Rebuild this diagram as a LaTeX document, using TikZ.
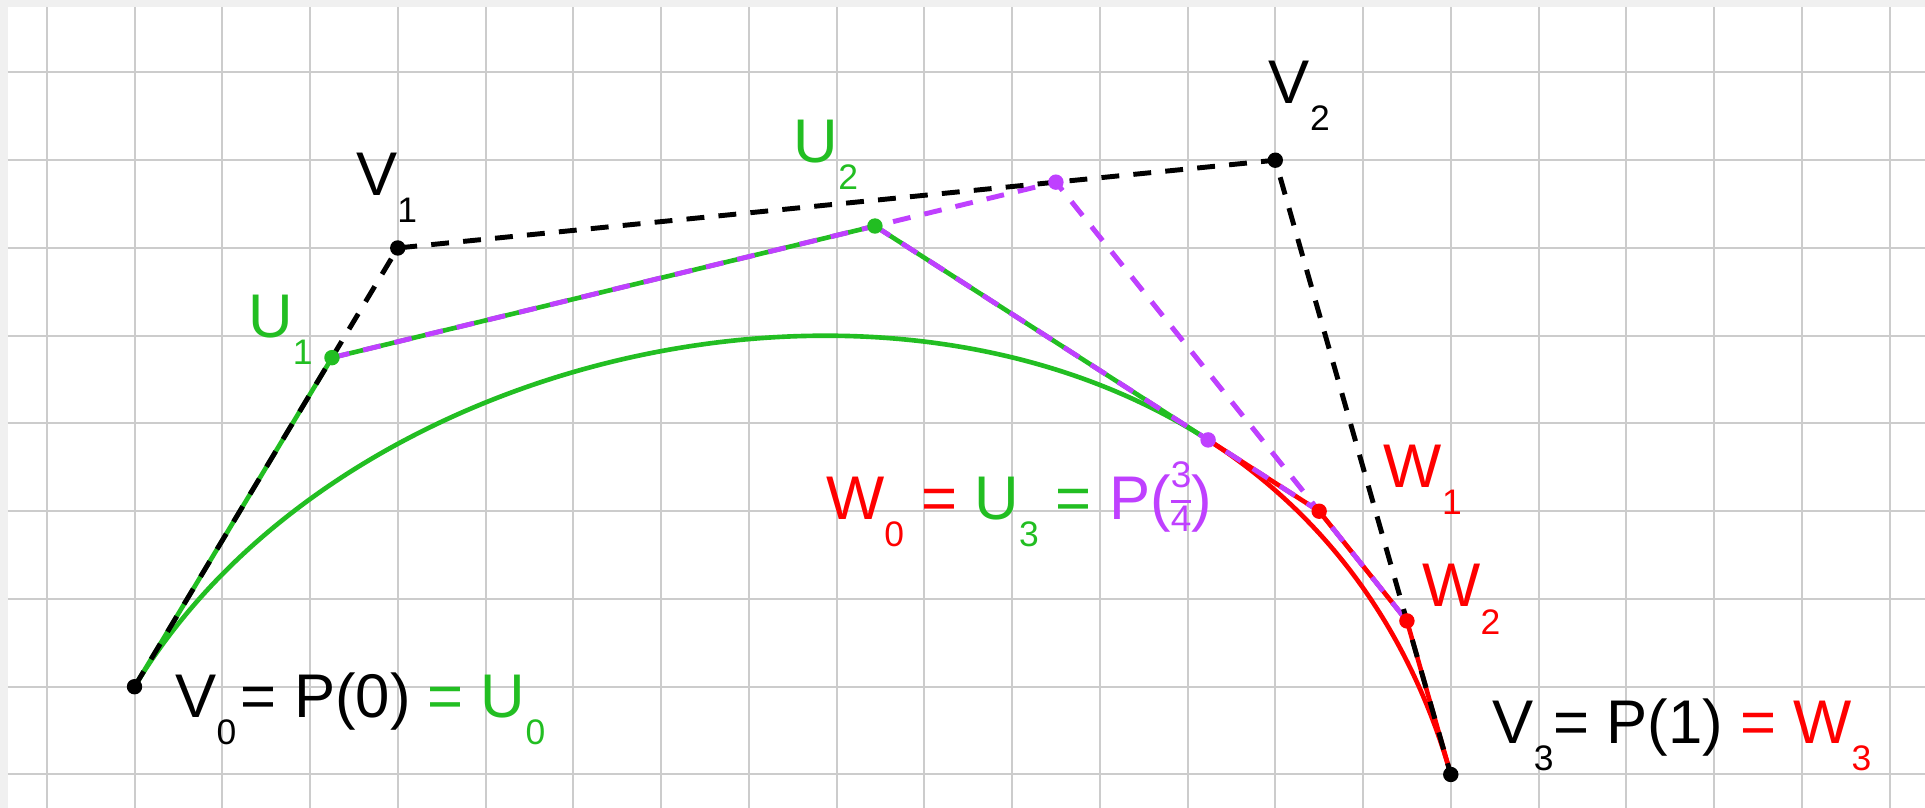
\documentclass[tikz,border=0pt]{standalone}
\usepackage{fontspec}
\setmainfont{Liberation Sans}
\definecolor{gridgray}{RGB}{204,204,204}
\definecolor{framegray}{RGB}{240,240,240}
\definecolor{ugreen}{RGB}{34,190,34}
\definecolor{mpurple}{RGB}{191,64,255}
\definecolor{wred}{RGB}{255,0,0}
\newcommand{\lowidx}[1]{\raisebox{-8.8pt}{\fontsize{11.5}{13}\selectfont #1}}
\newcommand{\stackfrac}[2]{\raisebox{3pt}{\fontsize{12}{12}\selectfont\setlength{\arrayrulewidth}{1pt}\renewcommand{\arraystretch}{1.12}\begin{tabular}{@{}c@{}}#1\\\hline #2\end{tabular}}}

\begin{document}
\begin{tikzpicture}
    \tikzset{
        gridline/.style={gridgray, line width=0.65pt},
        ctrl/.style={black, line width=1.6pt, dash pattern=on 5.8pt off 4.6pt},
        mid/.style={mpurple, line width=1.6pt, dash pattern=on 5.8pt off 4.6pt},
        solidline/.style={line width=1.5pt, line join=round},
        dot/.style={circle, inner sep=0pt, minimum size=5pt},
        lbl/.style={inner sep=0pt, font=\fontsize{20}{24}\selectfont}
    }

    % frame and grid
    \useasboundingbox (-1.533,-1.382) rectangle (20.404,7.826);
    \fill[framegray] (-1.533,-1.382) rectangle (20.404,7.826);
    \fill[white] (-1.442,-1.382) rectangle (20.404,7.746);
    \foreach \x in {-1,...,20} {
        \draw[gridline] (\x,-1.382) -- (\x,7.746);
    }
    \foreach \y in {-1,...,7} {
        \draw[gridline] (-1.442,\y) -- (20.404,\y);
    }

    % points
    \coordinate (v0) at (0,0);
    \coordinate (v1) at (3,5);
    \coordinate (v2) at (13,6);
    \coordinate (v3) at (15,-1);
    \coordinate (u1) at (2.25,3.75);
    \coordinate (m) at (10.5,5.75);
    \coordinate (w2) at (14.5,0.75);
    \coordinate (u2) at (8.4375,5.25);
    \coordinate (w1) at (13.5,2);
    \coordinate (u3) at (12.234375,2.8125);

    % curves and polygons
    \draw[solidline, ugreen] (v0) .. controls (u1) and (u2) .. (u3);
    \draw[solidline, ugreen] (v0) -- (u1) -- (u2) -- (u3);
    \draw[solidline, wred] (u3) .. controls (w1) and (w2) .. (v3);
    \draw[solidline, wred] (u3) -- (w1) -- (w2) -- (v3);
    \draw[mid] (u1) -- (m) -- (w2);
    \draw[mid] (u2) -- (w1);
    \draw[ctrl] (v0) -- (v1) -- (v2) -- (v3);

    \foreach \p/\c in {%
        v0/black, v1/black, v2/black, v3/black, u1/ugreen, u2/ugreen,
        m/mpurple, u3/mpurple, w1/wred, w2/wred%
    }{
        \node[dot, fill=\c] (d\p) at (\p) {};
    }

    % labels
    \node[lbl, anchor=base west] (lv0) at ([shift={(0.46,-0.35)}]v0)
        {V\lowidx{0}\hspace{1.5pt}= P(0) \textcolor{ugreen}{= U\lowidx{0}}};
    \node[lbl, anchor=base west] (lv1) at ([shift={(-0.48,0.60)}]v1) {V\lowidx{1}};
    \node[lbl, anchor=base west] (lv2) at ([shift={(-0.08,0.65)}]v2) {V\lowidx{2}};
    \node[lbl, anchor=base west] (lv3) at ([shift={(0.47,0.35)}]v3)
        {V\lowidx{3}= P(1) \textcolor{wred}{= W\lowidx{3}}};
    \node[lbl, anchor=base west, ugreen] (lu1) at ([shift={(-0.96,0.23)}]u1) {U\lowidx{1}};
    \node[lbl, anchor=base west, ugreen] (lu2) at ([shift={(-0.93,0.72)}]u2) {U\lowidx{2}};
    \node[lbl, anchor=base west, wred] (lw1) at ([shift={(0.73,0.27)}]w1) {W\lowidx{1}};
    \node[lbl, anchor=base west, wred] (lw2) at ([shift={(0.17,0.16)}]w2) {W\lowidx{2}};
    \node[lbl, anchor=base east] (lw0) at ([shift={(0.05,-0.91)}]u3)
        {\textcolor{wred}{W\lowidx{0} =} \textcolor{ugreen}{U\lowidx{3} =} \textcolor{mpurple}{P(\stackfrac{3}{4})}};
\end{tikzpicture}
\end{document}
